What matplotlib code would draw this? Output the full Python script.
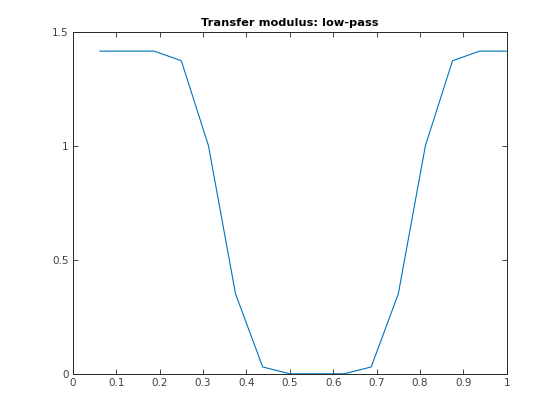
import numpy as np
import matplotlib
matplotlib.use("Agg")
import matplotlib.pyplot as plt

# frequencies k/16 and transfer modulus values
freq = [0.0625, 0.125, 0.1875, 0.25, 0.3125, 0.375, 0.4375, 0.5,
        0.5625, 0.625, 0.6875, 0.75, 0.8125, 0.875, 0.9375, 1.0]
modulus = [1.414, 1.414, 1.414, 1.372, 1.0, 0.35, 0.03, 0.0,
           0.0, 0.0, 0.03, 0.35, 1.0, 1.372, 1.414, 1.414]

xticks = [0, 0.1, 0.2, 0.3, 0.4, 0.5, 0.6, 0.7, 0.8, 0.9, 1]
xticklabels = ['0', '0.1', '0.2', '0.3', '0.4', '0.5', '0.6', '0.7', '0.8', '0.9', '1']
yticks = [0, 0.5, 1, 1.5]
yticklabels = ['0', '0.5', '1', '1.5']

plt.rcParams['font.family'] = ['DejaVu Sans']

fig = plt.figure(figsize=(5.6, 4.2), dpi=100)
ax = fig.add_axes([0.13, 0.11, 0.775, 0.815])

ax.plot(freq, modulus, color='#0072BD', linewidth=0.8)

ax.set_xlim(0, 1)
ax.set_ylim(0, 1.5)
ax.set_xticks(xticks)
ax.set_xticklabels(xticklabels)
ax.set_yticks(yticks)
ax.set_yticklabels(yticklabels)

ax.tick_params(direction='in', length=3.5, width=0.6, top=True, right=True,
               labelsize=7.5, labelcolor='#404040', color='#262626', pad=3)
for sp in ax.spines.values():
    sp.set_linewidth(0.7)
    sp.set_color('#262626')

ax.set_title('Transfer modulus: low-pass', fontsize=8.2, fontweight='bold', pad=4)

fig.savefig('out.png', dpi=100)
